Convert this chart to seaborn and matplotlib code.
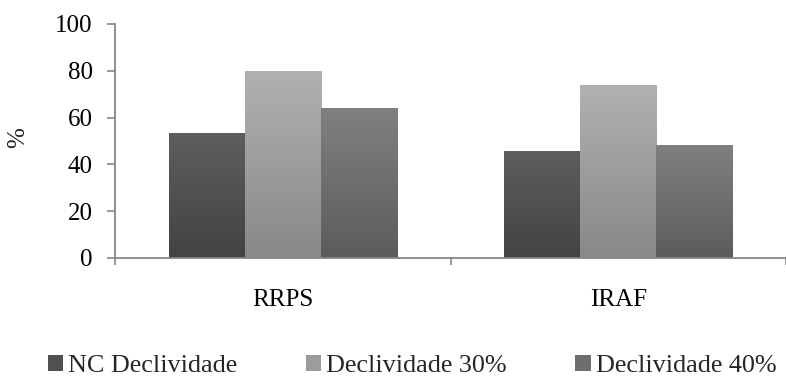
import numpy as np
import pandas as pd
import matplotlib
matplotlib.use("Agg")
import matplotlib.pyplot as plt
import seaborn as sns
from matplotlib.colors import LinearSegmentedColormap
from matplotlib.patches import Patch

categories = ["RRPS", "IRAF"]
series = ["NC Declividade", "Declividade 30%", "Declividade 40%"]
nc_vals = [53.5, 45.9]
d30_vals = [80.0, 73.9]
d40_vals = [64.1, 48.3]
y_ticks = [0, 20, 40, 60, 80, 100]

df = pd.DataFrame({
    "cat": categories * 3,
    "serie": [series[0]] * 2 + [series[1]] * 2 + [series[2]] * 2,
    "val": nc_vals + d30_vals + d40_vals,
})

sns.set_theme(style="white")
plt.rcParams["font.family"] = ["Liberation Serif", "DejaVu Serif"]

# (top colour, bottom colour) for each series
grads = [("#5e5e5e", "#434343"), ("#b1b1b1", "#888888"), ("#808080", "#5c5c5c")]
mids = ["#505050", "#9c9c9c", "#6e6e6e"]

fig = plt.figure(figsize=(7.86, 3.77), dpi=100)
ax = fig.add_axes([115 / 786, 1 - 258 / 377, (786 - 115) / 786, (258 - 24) / 377])

sns.barplot(data=df, x="cat", y="val", hue="serie", order=categories,
            hue_order=series, palette=mids, width=0.68, gap=0, ax=ax,
            legend=False, saturation=1, linewidth=0, edgecolor="none")

# gradient fill clipped to each bar
for i, cont in enumerate(ax.containers):
    cmap = LinearSegmentedColormap.from_list("g%d" % i, [grads[i][1], grads[i][0]])
    for p in cont.patches:
        x0, y0 = p.get_x(), p.get_y()
        w, h = p.get_width(), p.get_height()
        grad = np.linspace(0, 1, 256).reshape(-1, 1)
        im = ax.imshow(grad, extent=[x0, x0 + w, y0, y0 + h], origin="lower",
                       cmap=cmap, aspect="auto", zorder=p.get_zorder())
        im.set_clip_path(p)
ax.set_xlim(-0.5, 1.5)
ax.set_ylim(0, 100)

ax.set_yticks(y_ticks)
ax.set_yticklabels([str(t) for t in y_ticks], fontsize=18)
ax.set_xticks([0, 1])
ax.set_xticklabels(categories, fontsize=18)
ax.set_xticks([-0.5, 0.5, 1.5], minor=True)
ax.tick_params(axis="x", which="major", bottom=True, length=0, pad=22, colors="black")
ax.tick_params(axis="x", which="minor", bottom=True, length=5, width=1.2,
               color="#868686", direction="out")
ax.tick_params(axis="y", left=True, length=6, width=1.2, color="#868686",
               direction="out", pad=10, labelcolor="black")
ax.set_xlabel("")
ax.set_ylabel("")
fig.text(18 / 786, 1 - 138 / 377, "%", rotation=90, ha="center", va="center", fontsize=18)

for s in ["top", "right"]:
    ax.spines[s].set_visible(False)
for s in ["left", "bottom"]:
    ax.spines[s].set_color("#868686")
    ax.spines[s].set_linewidth(1.3)

# legend
handles = [Patch(facecolor=mids[i], edgecolor="none") for i in range(3)]
leg = fig.legend(handles, series, loc="center", bbox_to_anchor=(412 / 786, 1 - 366 / 377),
                 ncol=3, frameon=False, fontsize=18.8, handlelength=0.6, handleheight=0.6,
                 handletextpad=0.2, columnspacing=2.6, borderpad=0)

fig.savefig("out.png", dpi=100)
